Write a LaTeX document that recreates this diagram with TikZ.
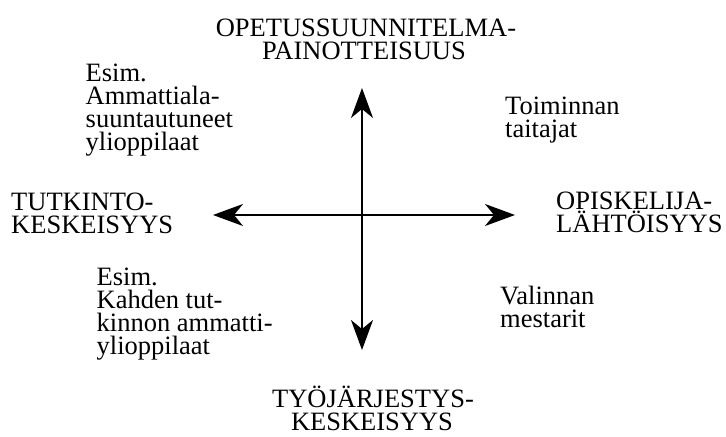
\documentclass[tikz,border=0pt]{standalone}
\usepackage{fontspec}
\setmainfont{Liberation Serif}
\newfontfamily\tmsfont{Liberation Serif}
\usetikzlibrary{arrows.meta}
\begin{document}
\begin{tikzpicture}[x=1bp,y=-1bp,
  lbl/.style={inner sep=0pt,text height=17bp,text depth=5bp,font=\tmsfont\fontsize{26.5bp}{23bp}\selectfont},
  lw/.style={lbl,anchor=base west},
  lc/.style={lbl,anchor=base},
  axis/.style={line width=1.6bp,-{Stealth[length=30bp,width=22bp,inset=9bp]}}]
\useasboundingbox (0,0) rectangle (726,437);
% axes
\coordinate (c) at (362,215);
\coordinate (t) at (362,88);
\coordinate (b) at (362,350);
\coordinate (l) at (213,215);
\coordinate (r) at (515,215);
\draw[axis] (c) -- (t);
\draw[axis] (c) -- (b);
\draw[axis] (c) -- (l);
\draw[axis] (c) -- (r);
% top
\node[lc] (h1) at (366,36.7) {OPETUSSUUNNITELMA-};
\node[lc] (h2) at (364,59.7) {PAINOTTEISUUS};
% bottom
\node[lc] (f1) at (373,407.5) {TYÖJÄRJESTYS-};
\node[lc] (f2) at (372,430.5) {KESKEISYYS};
% left
\node[lw] (w1) at (11,210.7) {TUTKINTO-};
\node[lw] (w2) at (11,233.7) {KESKEISYYS};
% right
\node[lw] (e1) at (556,210) {OPISKELIJA-};
\node[lw] (e2) at (556,233) {LÄHTÖISYYS};
% upper left
\node[lw] (a1) at (85.5,81.7) {Esim.};
\node[lw] (a2) at (85.5,104.7) {Ammattiala-};
\node[lw] (a3) at (85.5,127.7) {suuntautuneet};
\node[lw] (a4) at (85.5,150.7) {ylioppilaat};
% upper right
\node[lw] (b1) at (505,114.3) {Toiminnan};
\node[lw] (b2) at (505,137.3) {taitajat};
% lower left
\node[lw] (d1) at (96.5,285.7) {Esim.};
\node[lw] (d2) at (96.5,308.7) {Kahden tut-};
\node[lw] (d3) at (96.5,331.7) {kinnon ammatti-};
\node[lw] (d4) at (96.5,354.7) {ylioppilaat};
% lower right
\node[lw] (g1) at (500,305) {Valinnan};
\node[lw] (g2) at (500,328) {mestarit};
\end{tikzpicture}
\end{document}
